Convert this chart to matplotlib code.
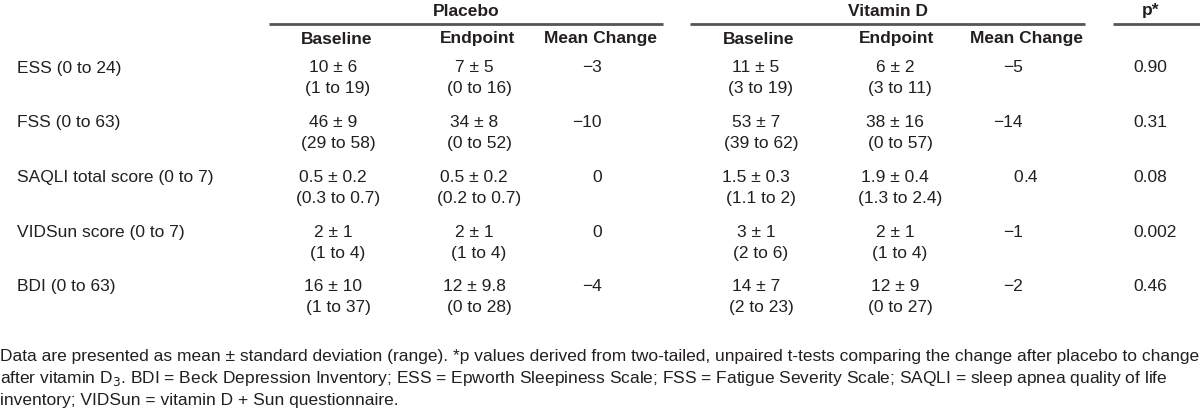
import matplotlib
matplotlib.use('Agg')
import matplotlib.pyplot as plt

plt.rcParams['font.family'] = ['Liberation Sans Narrow', 'Liberation Sans', 'DejaVu Sans']
plt.rcParams['mathtext.fontset'] = 'custom'
plt.rcParams['mathtext.rm'] = 'Liberation Sans Narrow'

# 表格数据
measures = ['ESS (0 to 24)', 'FSS (0 to 63)', 'SAQLI total score (0 to 7)',
            'VIDSun score (0 to 7)', 'BDI (0 to 63)']
pl_base = ['10 ± 6', '46 ± 9', '0.5 ± 0.2', '2 ± 1', '16 ± 10']
pl_base_rng = ['(1 to 19)', '(29 to 58)', '(0.3 to 0.7)', '(1 to 4)', '(1 to 37)']
pl_end = ['7 ± 5', '34 ± 8', '0.5 ± 0.2', '2 ± 1', '12 ± 9.8']
pl_end_rng = ['(0 to 16)', '(0 to 52)', '(0.2 to 0.7)', '(1 to 4)', '(0 to 28)']
pl_change = ['−3', '−10', '0', '0', '−4']
vd_base = ['11 ± 5', '53 ± 7', '1.5 ± 0.3', '3 ± 1', '14 ± 7']
vd_base_rng = ['(3 to 19)', '(39 to 62)', '(1.1 to 2)', '(2 to 6)', '(2 to 23)']
vd_end = ['6 ± 2', '38 ± 16', '1.9 ± 0.4', '2 ± 1', '12 ± 9']
vd_end_rng = ['(3 to 11)', '(0 to 57)', '(1.3 to 2.4)', '(1 to 4)', '(0 to 27)']
vd_change = ['−5', '−14', '0.4', '−1', '−2']
p_values = ['0.90', '0.31', '0.08', '0.002', '0.46']

footnote = ['Data are presented as mean ± standard deviation (range). *p values derived from two-tailed, unpaired t-tests comparing the change after placebo to change',
            'after vitamin D$_3$. BDI = Beck Depression Inventory; ESS = Epworth Sleepiness Scale; FSS = Fatigue Severity Scale; SAQLI = sleep apnea quality of life',
            'inventory; VIDSun = vitamin D + Sun questionnaire.']

txt = '#231f20'
fs = 12.5

fig = plt.figure(figsize=(12, 4.15), dpi=100)
ax = fig.add_axes([0, 0, 1, 1])
ax.set_xlim(0, 1200)
ax.set_ylim(415, 0)
ax.axis('off')

# 表头
for label, x0, x1 in [('Placebo', 269, 663), ('Vitamin D', 690, 1085), ('p*', 1113, 1200)]:
    ax.text((x0 + x1) / 2 if label != 'p*' else 1151, 11, label, ha='center', va='center',
            fontsize=fs, fontweight='bold', color=txt)
    ax.plot([x0, x1], [24, 24], color='#555555', lw=2, solid_capstyle='butt')

for label, x in [('Baseline', 337), ('Endpoint', 478), ('Mean Change', 601),
                 ('Baseline', 759), ('Endpoint', 897), ('Mean Change', 1026)]:
    ax.text(x, 39, label, ha='center', va='center', fontsize=fs, fontweight='bold', color=txt)

def dec_text(x, y, s):
    # 小数点对齐
    if '.' in s:
        a, b = s.split('.')
        ax.text(x, y, a, ha='right', va='center', fontsize=fs, color=txt)
        ax.text(x, y, '.' + b, ha='left', va='center', fontsize=fs, color=txt)
    else:
        ax.text(x, y, s, ha='right', va='center', fontsize=fs, color=txt)

row_y = 68
step = 54.7
for i in range(len(measures)):
    y = row_y + i * step
    y2 = y + 21
    ax.text(17, y, measures[i], ha='left', va='center', fontsize=fs, color=txt)
    for x, m, r in [(336, pl_base[i], pl_base_rng[i]), (477, pl_end[i], pl_end_rng[i]),
                    (759, vd_base[i], vd_base_rng[i]), (898, vd_end[i], vd_end_rng[i])]:
        ax.text(x - 3, y, m, ha='center', va='center', fontsize=fs, color=txt)
        ax.text(x + 2, y2, r, ha='center', va='center', fontsize=fs, color=txt)
    dec_text(602, y, pl_change[i])
    dec_text(1023, y, vd_change[i])
    ax.text(1133, y, p_values[i], ha='left', va='center', fontsize=fs, color=txt)

for j, line in enumerate(footnote):
    ax.text(0, 356 + j * 22, line, ha='left', va='center', fontsize=fs, color=txt)

fig.savefig('out.png', dpi=100)
